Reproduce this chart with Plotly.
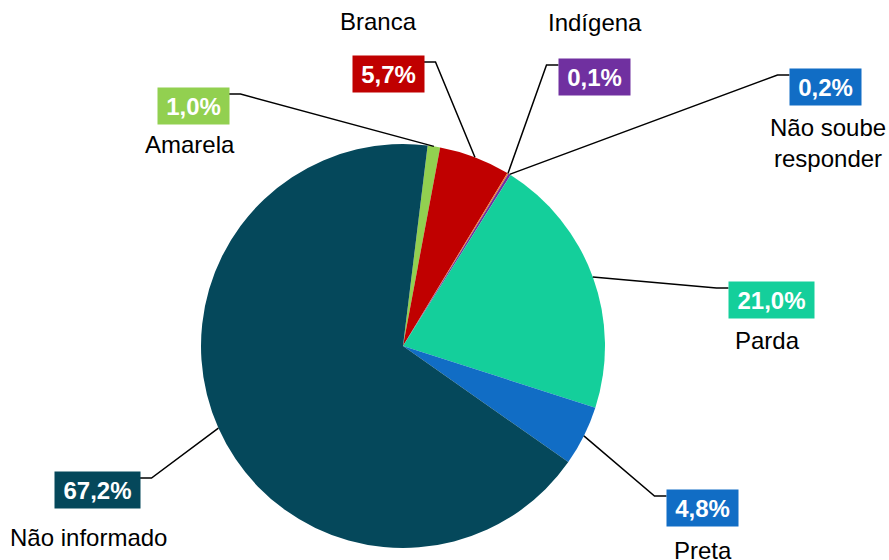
import math
import plotly.graph_objects as go

# ---- data ----
categories = ["Amarela", "Branca", "Indígena", "Não soube responder", "Parda", "Preta", "Não informado"]
values = [1.0, 5.7, 0.1, 0.2, 21.0, 4.8, 67.2]
slice_colors = ["#92D050", "#C00000", "#ED7D31", "#7030A0", "#14CF9B", "#116DC5", "#05485B"]
box_colors = ["#92D050", "#C00000", "#7030A0", "#116DC5", "#14CF9B", "#116DC5", "#05485B"]
name_texts = ["Amarela", "Branca", "Indígena", "Não soube<br>responder", "Parda", "Preta", "Não informado"]

# ---- layout (pixels in the 889x560 page) ----
W, H = 889, 560
CX, CY, R = 403, 346, 202
ROTATION = 7
box_centers = [(193, 106), (388, 74), (594, 77), (825, 87), (771, 300), (702, 508), (97, 490)]
box_side = ["right", "right", "left", "left", "left", "left", "right"]
name_centers = [(190, 144), (378, 22), (595, 23), (828, 143), (767, 340), (703, 550), (88, 537)]
BOX_H = 36
ELBOW = 12
FONT = "Liberation Sans, Arial, sans-serif"


def px(x):
    return x / W


def py(y):
    return 1 - y / H


fig = go.Figure(go.Pie(
    labels=categories,
    values=values,
    sort=False,
    direction="clockwise",
    rotation=ROTATION,
    marker=dict(colors=slice_colors, line=dict(width=0)),
    textinfo="none",
    hoverinfo="label+percent",
    showlegend=False,
    domain=dict(x=[px(CX - R), px(CX + R)], y=[py(CY + R), py(CY - R)]),
))

total = sum(values)
annotations = []
shapes = []
cum = 0.0
for i, v in enumerate(values):
    mid = math.radians(ROTATION + (cum + v / 2) / total * 360)
    cum += v
    sx = CX + R * math.sin(mid)
    sy = CY - R * math.cos(mid)
    txt = f"{v:.1f}".replace(".", ",") + "%"
    bw = 14 * len(txt) + 15
    bx, by = box_centers[i]
    ly = by - BOX_H / 2 + 6
    if box_side[i] == "right":
        ex = bx + bw / 2
        elx = ex + ELBOW
    else:
        ex = bx - bw / 2
        elx = ex - ELBOW
    shapes.append(dict(
        type="path", xref="paper", yref="paper",
        path=f"M {px(sx)} {py(sy)} L {px(elx)} {py(ly)} L {px(ex)} {py(ly)}",
        line=dict(color="black", width=1.5),
    ))
    annotations.append(dict(
        x=px(bx), y=py(by), xref="paper", yref="paper",
        xanchor="center", yanchor="middle", showarrow=False,
        text=f"<b>{txt}</b>", font=dict(family=FONT, size=24, color="white"),
        bgcolor=box_colors[i], borderpad=4, width=bw - 8, height=BOX_H - 8,
    ))
    nx, ny = name_centers[i]
    annotations.append(dict(
        x=px(nx), y=py(ny), xref="paper", yref="paper",
        xanchor="center", yanchor="middle", showarrow=False,
        text=name_texts[i], font=dict(family=FONT, size=24, color="black"),
    ))

fig.update_layout(
    width=W, height=H,
    margin=dict(l=0, r=0, t=0, b=0),
    paper_bgcolor="white", plot_bgcolor="white",
    annotations=annotations, shapes=shapes,
)
fig.write_html("out.html")
